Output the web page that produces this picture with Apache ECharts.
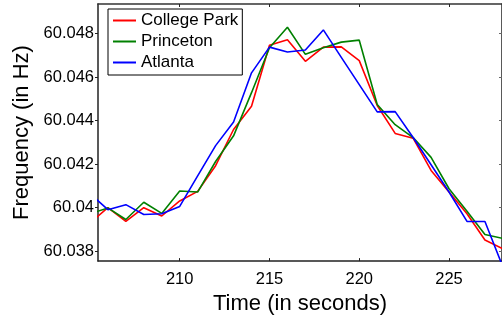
<!DOCTYPE html>
<html>
<head>
<meta charset="utf-8">
<script src="https://cdn.jsdelivr.net/npm/echarts@6/dist/echarts.min.js"></script>
<style>html,body{margin:0;padding:0;background:#fff;}#c{width:502px;height:320px;}</style>
</head>
<body>
<div id="c"></div>
<script>
const seconds = [205,206,207,208,209,210,211,212,213,214,215,216,217,218,219,220,221,222,223,224,225,226,227,228];
const collegePark = [60.0393,60.0400,60.03937,60.0400,60.03962,60.04031,60.04075,60.04193,60.04359,60.04466,60.04746,60.04771,60.04672,60.04737,60.04738,60.04675,60.04469,60.04341,60.04319,60.04171,60.04072,60.03972,60.03852,60.03811];
const princeton = [60.03972,60.03999,60.03946,60.04025,60.03974,60.04077,60.04072,60.04212,60.0433,60.04528,60.04734,60.04828,60.04704,60.04734,60.0476,60.04769,60.04474,60.04381,60.04322,60.04231,60.04087,60.03984,60.03877,60.03859];
const atlanta = [60.04065,60.03991,60.04014,60.03969,60.03972,60.04006,60.04146,60.04285,60.04393,60.04619,60.04737,60.04715,60.04724,60.04816,60.0469,60.04565,60.0444,60.04441,60.04322,60.04197,60.04072,60.03937,60.03937,60.03728];
const xTicks = [210,215,220,225];
const yTicks = [60.038,60.040,60.042,60.044,60.046,60.048];
const seriesNames = ['College Park','Princeton','Atlanta'];

const FONT = "'Liberation Sans', Arial, Helvetica, sans-serif";
const pairs = arr => seconds.map((s,i)=>[s,arr[i]]);
const axisCol = '#222';
const chart = echarts.init(document.getElementById('c'), null, {renderer:'canvas'});
const xBase = {type:'value', min:205.45, max:227.95};
const yBase = {type:'value', min:60.03755, max:60.04935, scale:true};
chart.setOption({
  animation:false,
  backgroundColor:'#fff',
  grid:{left:98, right:-1, top:4, bottom:47.5, containLabel:false},
  legend:{
    orient:'vertical', left:108, top:9,
    data:seriesNames, icon:'rect',
    backgroundColor:'#fff', borderColor:'#000', borderWidth:1,
    padding:[3,4,4,5], itemGap:4, itemWidth:23, itemHeight:2, itemTextGap:3,
    textStyle:{fontFamily:FONT, fontSize:17, color:'#000', lineHeight:17}
  },
  xAxis:[
    Object.assign({}, xBase, {
      position:'bottom',
      name:'Time (in seconds)', nameLocation:'middle', nameGap:19,
      nameTextStyle:{fontFamily:FONT, fontSize:22, color:'#000'},
      axisLine:{show:true, lineStyle:{color:axisCol, width:1.5}},
      axisTick:{show:true, inside:true, length:3, customValues:xTicks, lineStyle:{color:axisCol}},
      axisLabel:{show:true, margin:10, customValues:xTicks, fontFamily:FONT, fontSize:16.5, color:'#000'},
      splitLine:{show:false}
    }),
    Object.assign({}, xBase, {
      position:'top',
      axisLine:{show:true, lineStyle:{color:'#333', width:1.7}},
      axisTick:{show:true, inside:true, length:3, customValues:xTicks, lineStyle:{color:axisCol}},
      axisLabel:{show:false},
      splitLine:{show:false}
    })
  ],
  yAxis:[
    Object.assign({}, yBase, {
      position:'left',
      name:'Frequency (in Hz)', nameLocation:'middle', nameGap:54,
      nameTextStyle:{fontFamily:FONT, fontSize:22, color:'#000'},
      axisLine:{show:true, lineStyle:{color:axisCol, width:1.5}},
      axisTick:{show:true, inside:false, length:3, customValues:yTicks, lineStyle:{color:axisCol}},
      axisLabel:{show:true, margin:4, customValues:yTicks, fontFamily:FONT, fontSize:16.5, color:'#000',
        formatter: v => String(parseFloat(Number(v).toFixed(3)))},
      splitLine:{show:false}
    }),
    Object.assign({}, yBase, {
      position:'right',
      axisLine:{show:true, lineStyle:{color:axisCol, width:1.5}},
      axisTick:{show:true, inside:true, length:3, customValues:yTicks, lineStyle:{color:'#666'}},
      axisLabel:{show:false},
      splitLine:{show:false}
    })
  ],
  series:[
    {name:seriesNames[0], type:'line', data:pairs(collegePark), symbol:'none', clip:true,
      lineStyle:{color:'#ff0000', width:1.6}, itemStyle:{color:'#ff0000'}},
    {name:seriesNames[1], type:'line', data:pairs(princeton), symbol:'none', clip:true,
      lineStyle:{color:'#008000', width:1.6}, itemStyle:{color:'#008000'}},
    {name:seriesNames[2], type:'line', data:pairs(atlanta), symbol:'none', clip:true,
      lineStyle:{color:'#0000ff', width:1.6}, itemStyle:{color:'#0000ff'}}
  ]
});
</script>
</body>
</html>
